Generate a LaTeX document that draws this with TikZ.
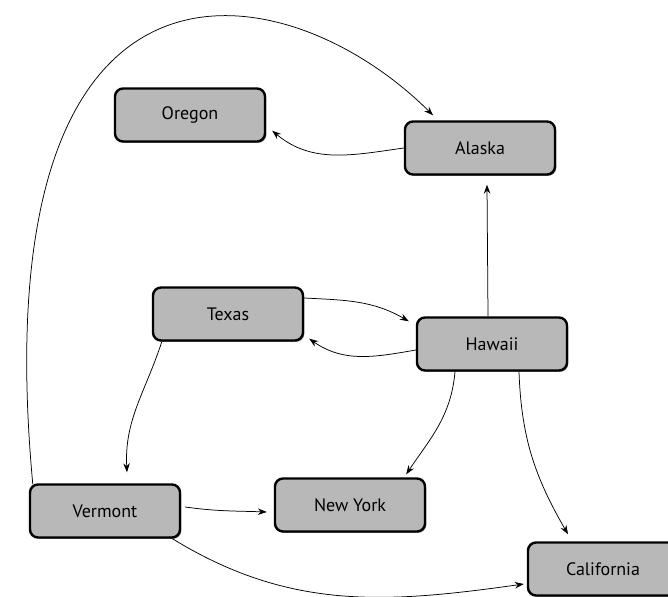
\documentclass[tikz,border=0pt]{standalone}
\usepackage{fontspec}
\setmainfont{PT Sans}
\usetikzlibrary{arrows.meta,shadows}
\begin{document}
\begin{tikzpicture}[x=1pt,y=1pt,
  state/.style={draw=black, line width=2.4pt, rounded corners=8pt, fill=black!28,
    minimum width=150pt, minimum height=53pt, inner sep=0pt,
    font=\fontsize{18}{20}\selectfont,
    drop shadow={shadow xshift=1.3pt,shadow yshift=-1.3pt,fill=black!85}},
  link/.style={line width=0.75pt, -{Stealth[length=9pt,width=6.5pt,inset=3pt]}}]
\useasboundingbox (0,0) rectangle (668,596);
\clip (0,0) rectangle (668,596);
\fill[white] (0,0) rectangle (668,596);

\node[state] (oregon) at (190,481) {Oregon};
\node[state] (alaska) at (480,448) {Alaska};
\node[state] (texas) at (228,282) {Texas};
\node[state] (hawaii) at (492,252) {Hawaii};
\node[state] (vermont) at (105,85) {Vermont};
\node[state] (newyork) at (350,91) {New York};
\node[state] (california) at (603,27) {California};

% Vermont -> Alaska (big arc)
\draw[link] ([xshift=4pt,yshift=-1pt]vermont.north west)
  .. controls (-20,680) and (283,630) .. ([xshift=-47pt,yshift=5pt]alaska.north);
% Alaska -> Oregon
\draw[link] (alaska.west) to[out=188,in=-40] ([xshift=6pt,yshift=12pt]oregon.south east);
% Hawaii -> Alaska
\draw[link] ([xshift=-4pt]hawaii.north) -- ([xshift=7pt,yshift=-9pt]alaska.south);
% Texas -> Hawaii
\draw[link] ([yshift=16pt]texas.east) to[out=-3,in=150] ([xshift=-7pt,yshift=-5pt]hawaii.north west);
% Hawaii -> Texas
\draw[link] ([yshift=-6pt]hawaii.west) to[out=190,in=-35] ([xshift=5pt,yshift=3pt]texas.south east);
% Texas -> Vermont
\draw[link] ([xshift=10pt]texas.south west) to[out=-108,in=93] ([xshift=22pt,yshift=11pt]vermont.north);
% Hawaii -> New York
\draw[link] ([xshift=-37pt]hawaii.south) to[out=-95,in=56] ([xshift=-20pt,yshift=3pt]newyork.north east);
% Hawaii -> California
\draw[link] ([xshift=27pt]hawaii.south) to[out=-88,in=120] ([xshift=-35pt,yshift=7pt]california.north);
% Vermont -> New York
\draw[link] ([xshift=4pt,yshift=4pt]vermont.east) to[out=-8,in=178] ([xshift=-7pt,yshift=-7pt]newyork.west);
% Vermont -> California
\draw[link] ([xshift=-12pt,yshift=2pt]vermont.south east) to[out=-32,in=188] ([xshift=-3pt,yshift=-15pt]california.west);
\end{tikzpicture}
\end{document}
